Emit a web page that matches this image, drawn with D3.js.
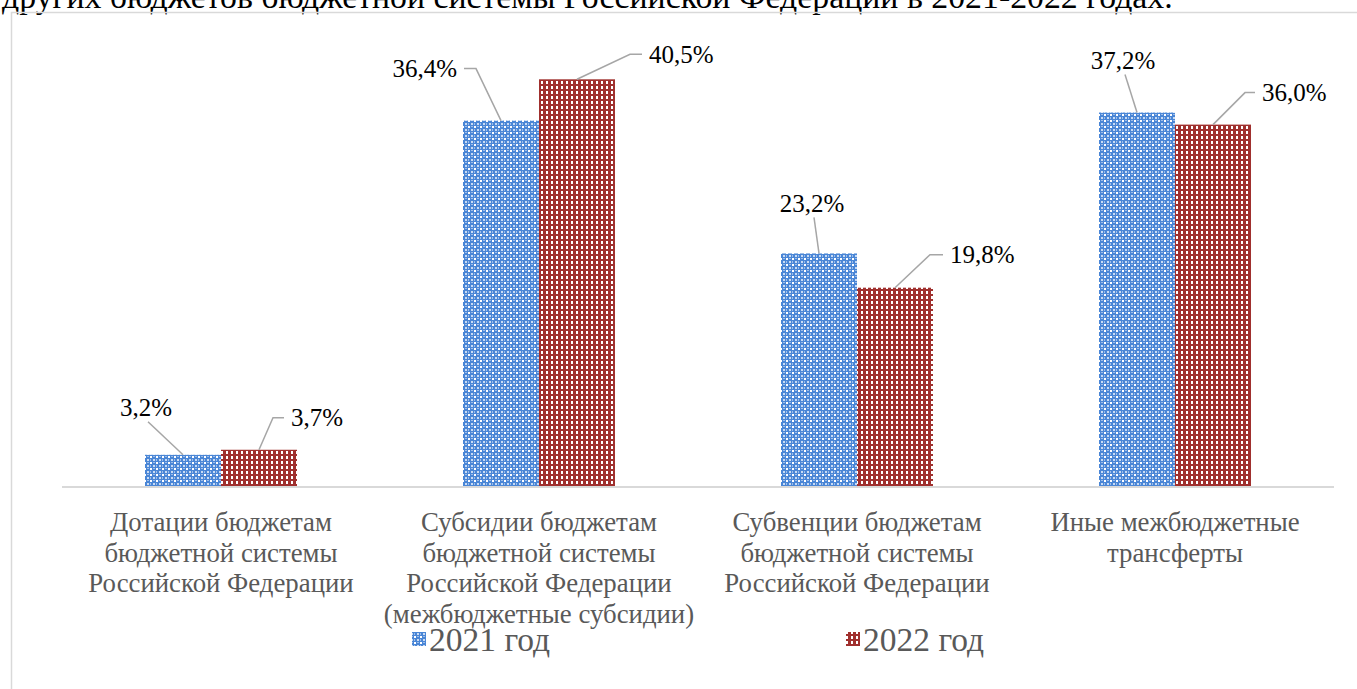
<!DOCTYPE html>
<html>
<head>
<meta charset="utf-8">
<script src="https://cdn.jsdelivr.net/npm/d3@7"></script>
</head>
<body style="margin:0">
<script>
// data
var categories = [
  ["Дотации бюджетам", "бюджетной системы", "Российской Федерации"],
  ["Субсидии бюджетам", "бюджетной системы", "Российской Федерации", "(межбюджетные субсидии)"],
  ["Субвенции бюджетам", "бюджетной системы", "Российской Федерации"],
  ["Иные межбюджетные", "трансферты"]
];
var seriesNames = ["2021 год", "2022 год"];
var values2021 = [3.2, 36.4, 23.2, 37.2];
var values2022 = [3.7, 40.5, 19.8, 36.0];
var titleText = "других бюджетов бюджетной системы Российской Федерации в 2021-2022 годах.";

// label leader offsets (elbow relative to bar top centre, then short horizontal run)
var leader2021 = [[-35, -33, 0], [-25, -52, -12], [-5, -36, 0], [-12, -38, 0]];
var leader2022 = [[14, -32, 11], [53, -25, 12], [35, -33, 13], [32, -32, 10]];

var FONT = "'Liberation Serif'";
var svgWidth = 1357, svgHeight = 689;
var margin = { left: 62, right: 23, baseline: 487 };

var svg = d3.select("body").append("svg")
  .attr("width", svgWidth)
  .attr("height", svgHeight);

var defs = svg.append("defs");

// 2021 pattern
var p1 = defs.append("pattern").attr("id", "pat2021")
  .attr("patternUnits", "userSpaceOnUse").attr("width", 6).attr("height", 6);
p1.append("rect").attr("width", 6).attr("height", 6).attr("fill", "#4a86d6");
p1.append("rect").attr("x", 0).attr("y", 0).attr("width", 2).attr("height", 2).attr("fill", "#ffffff");
p1.append("rect").attr("x", 3).attr("y", 3).attr("width", 2).attr("height", 2).attr("fill", "#c9dbf3");
p1.append("rect").attr("x", 3).attr("y", 0).attr("width", 2).attr("height", 1).attr("fill", "#9dbde9");
p1.append("rect").attr("x", 0).attr("y", 3).attr("width", 1).attr("height", 2).attr("fill", "#9dbde9");

// 2022 pattern
var p2 = defs.append("pattern").attr("id", "pat2022")
  .attr("patternUnits", "userSpaceOnUse").attr("width", 5).attr("height", 5);
p2.append("rect").attr("width", 5).attr("height", 5).attr("fill", "#a0302e");
p2.append("rect").attr("x", 1).attr("y", 1).attr("width", 2).attr("height", 3).attr("fill", "#ffffff");

function addText() {
  return svg.append("text").style("font-family", FONT);
}

// title (cut off at top)
addText()
  .attr("x", 2)
  .attr("y", 8)
  .attr("font-size", "33.8px")
  .attr("fill", "#000")
  .text(titleText);

// chart frame
svg.append("rect")
  .attr("x", 11.5).attr("y", 12.5)
  .attr("width", 1500).attr("height", 900)
  .attr("fill", "none")
  .attr("stroke", "#d9d9d9")
  .attr("stroke-width", 1.5);

var x0 = d3.scaleBand()
  .domain(d3.range(categories.length))
  .range([margin.left, svgWidth - margin.right])
  .paddingInner(0.522)
  .paddingOuter(0.261);

var x1 = d3.scaleBand()
  .domain([0, 1])
  .range([0, x0.bandwidth()]);

var y = d3.scaleLinear()
  .domain([0, 45])
  .range([margin.baseline, margin.baseline - 453]);

var series = [values2021, values2022];
var leaders = [leader2021, leader2022];
var fills = ["url(#pat2021)", "url(#pat2022)"];

series.forEach(function (vals, s) {
  svg.append("g").selectAll("rect")
    .data(vals)
    .enter()
    .append("rect")
    .attr("x", (d, i) => x0(i) + x1(s))
    .attr("y", d => y(d))
    .attr("width", x1.bandwidth())
    .attr("height", d => y(0) - y(d))
    .attr("fill", fills[s]);
});

// axis line
svg.append("line")
  .attr("x1", margin.left).attr("x2", svgWidth - margin.right)
  .attr("y1", y(0)).attr("y2", y(0))
  .attr("stroke", "#d9d9d9")
  .attr("stroke-width", 2);

// data labels with leader lines
var fmt = d => d.toFixed(1).replace(".", ",") + "%";
series.forEach(function (vals, s) {
  vals.forEach(function (v, i) {
    var bx = x0(i) + x1(s) + x1.bandwidth() / 2;
    var by = y(v);
    var off = leaders[s][i];
    var ex = bx + off[0], ey = by + off[1];
    var hx = ex + off[2];
    svg.append("polyline")
      .attr("points", [[bx, by], [ex, ey], [hx, ey]].map(p => p.join(",")).join(" "))
      .attr("fill", "none")
      .attr("stroke", "#a6a6a6")
      .attr("stroke-width", 1.5);
    var t = addText()
      .attr("font-size", "25px")
      .attr("fill", "#000")
      .attr("dy", "0.33em")
      .text(fmt(v));
    if (s === 1) {
      t.attr("x", hx + 7).attr("y", ey).attr("text-anchor", "start");
    } else if (off[2] < 0) {
      t.attr("x", hx - 7).attr("y", ey).attr("text-anchor", "end");
    } else {
      t.attr("x", ex - 2).attr("y", ey - 14).attr("text-anchor", "middle");
    }
  });
});

// category labels
categories.forEach(function (lines, i) {
  var g = addText()
    .attr("text-anchor", "middle")
    .attr("font-size", "26.8px")
    .attr("fill", "#595959");
  lines.forEach(function (ln, k) {
    g.append("tspan")
      .attr("x", x0(i) + x0.bandwidth() / 2)
      .attr("y", 531 + k * 30.7)
      .text(ln);
  });
});

// legend
var legendX = [412, 846];
seriesNames.forEach(function (name, s) {
  svg.append("rect")
    .attr("x", legendX[s]).attr("y", 632)
    .attr("width", 14).attr("height", 14)
    .attr("fill", fills[s]);
  addText()
    .attr("x", legendX[s] + 17)
    .attr("y", 651)
    .attr("font-size", "33.5px")
    .attr("fill", "#595959")
    .text(name);
});
</script>
</body>
</html>
